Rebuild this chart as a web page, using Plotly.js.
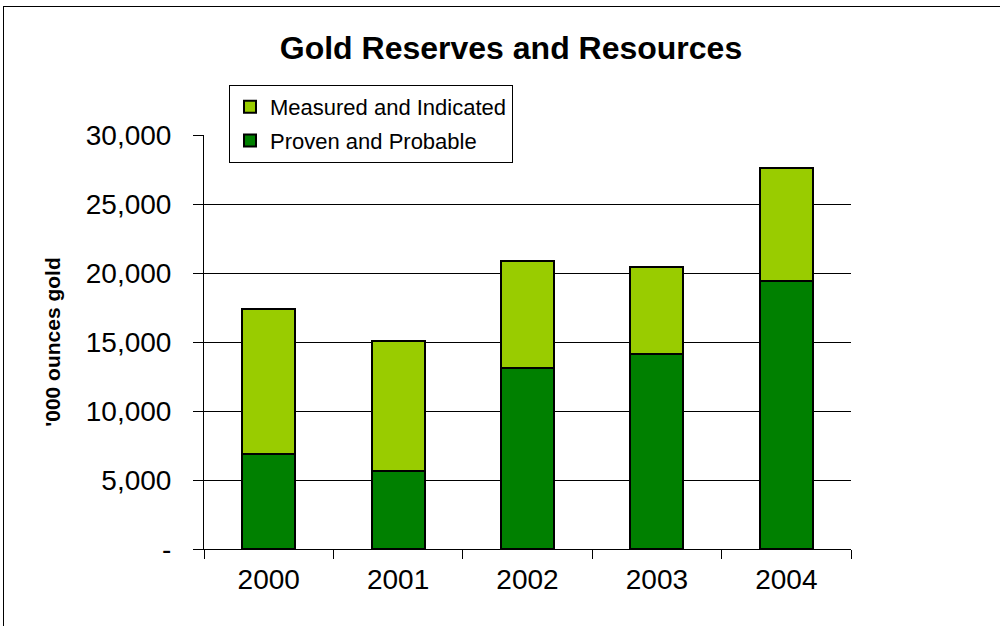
<!DOCTYPE html>
<html>
<head>
<meta charset="utf-8">
<script src="https://cdn.plot.ly/plotly-3.0.1.min.js"></script>
<style>
  html, body { margin: 0; padding: 0; background: #fff; }
  #chart { width: 1000px; height: 626px; }
  #frame { position: absolute; left: 3px; top: 6px; width: 1200px; height: 800px;
           border: 1.5px solid #000; pointer-events: none; }
</style>
</head>
<body>
<div id="chart"></div>
<div id="frame"></div>
<script>
const years = ['2000', '2001', '2002', '2003', '2004'];
const provenProbable = [6900, 5650, 13100, 14150, 19400];
const measuredIndicated = [10500, 9450, 7800, 6250, 8200];
const yTickVals = [0, 5000, 10000, 15000, 20000, 25000, 30000];
const yTickText = ['-', '5,000', '10,000', '15,000', '20,000', '25,000', '30,000'];

const FONT = 'Arial, "Liberation Sans", sans-serif';

const traces = [
  {
    type: 'bar', name: 'Proven and Probable', x: years, y: provenProbable,
    legendgroup: 'pp', legendrank: 2,
    marker: { color: '#008000', line: { color: '#000', width: 2 } },
    hoverinfo: 'skip'
  },
  {
    type: 'bar', name: 'Measured and Indicated', x: years, y: measuredIndicated,
    legendgroup: 'mi', legendrank: 1,
    marker: { color: '#99CC00', line: { color: '#000', width: 2 } },
    hoverinfo: 'skip'
  }
];

const layout = {
  width: 1000, height: 626,
  paper_bgcolor: '#fff', plot_bgcolor: '#fff',
  margin: { l: 204, r: 149, t: 135, b: 77 },
  barmode: 'stack',
  bargap: 0.59,
  font: { family: FONT, color: '#000' },
  title: {
    text: '<b>Gold Reserves and Resources</b>',
    font: { family: FONT, size: 32, color: '#000' },
    x: 0.511, xref: 'container', xanchor: 'center',
    y: 1 - 48 / 626, yref: 'container', yanchor: 'middle'
  },
  xaxis: {
    type: 'category',
    showline: true, linecolor: '#000', linewidth: 1,
    ticks: 'outside', tickson: 'boundaries', ticklen: 9, tickcolor: '#000',
    tickfont: { family: FONT, size: 28, color: '#000' },
    ticklabelstandoff: 5,
    showgrid: false, zeroline: false
  },
  yaxis: {
    range: [0, 30000],
    tickvals: yTickVals, ticktext: yTickText,
    showline: true, linecolor: '#000', linewidth: 1,
    ticks: 'outside', ticklen: 10, tickcolor: '#000',
    tickfont: { family: FONT, size: 28, color: '#000' },
    ticklabelstandoff: 16,
    showgrid: true, gridcolor: '#000', gridwidth: 1,
    zeroline: false,
    title: {
      text: "<b>'000 ounces gold</b>",
      font: { family: FONT, size: 21, color: '#000' },
      standoff: 19
    }
  },
  legend: {
    x: (229 - 204) / 647, xanchor: 'left',
    y: (549 - 85) / 414, yanchor: 'top',
    bgcolor: '#fff', bordercolor: '#000', borderwidth: 1,
    font: { family: FONT, size: 22, color: '#000' },
    traceorder: 'grouped', tracegroupgap: 2,
    itemwidth: 30
  },
  showlegend: true
};

Plotly.newPlot('chart', traces, layout, { displayModeBar: false, staticPlot: true });
</script>
</body>
</html>
